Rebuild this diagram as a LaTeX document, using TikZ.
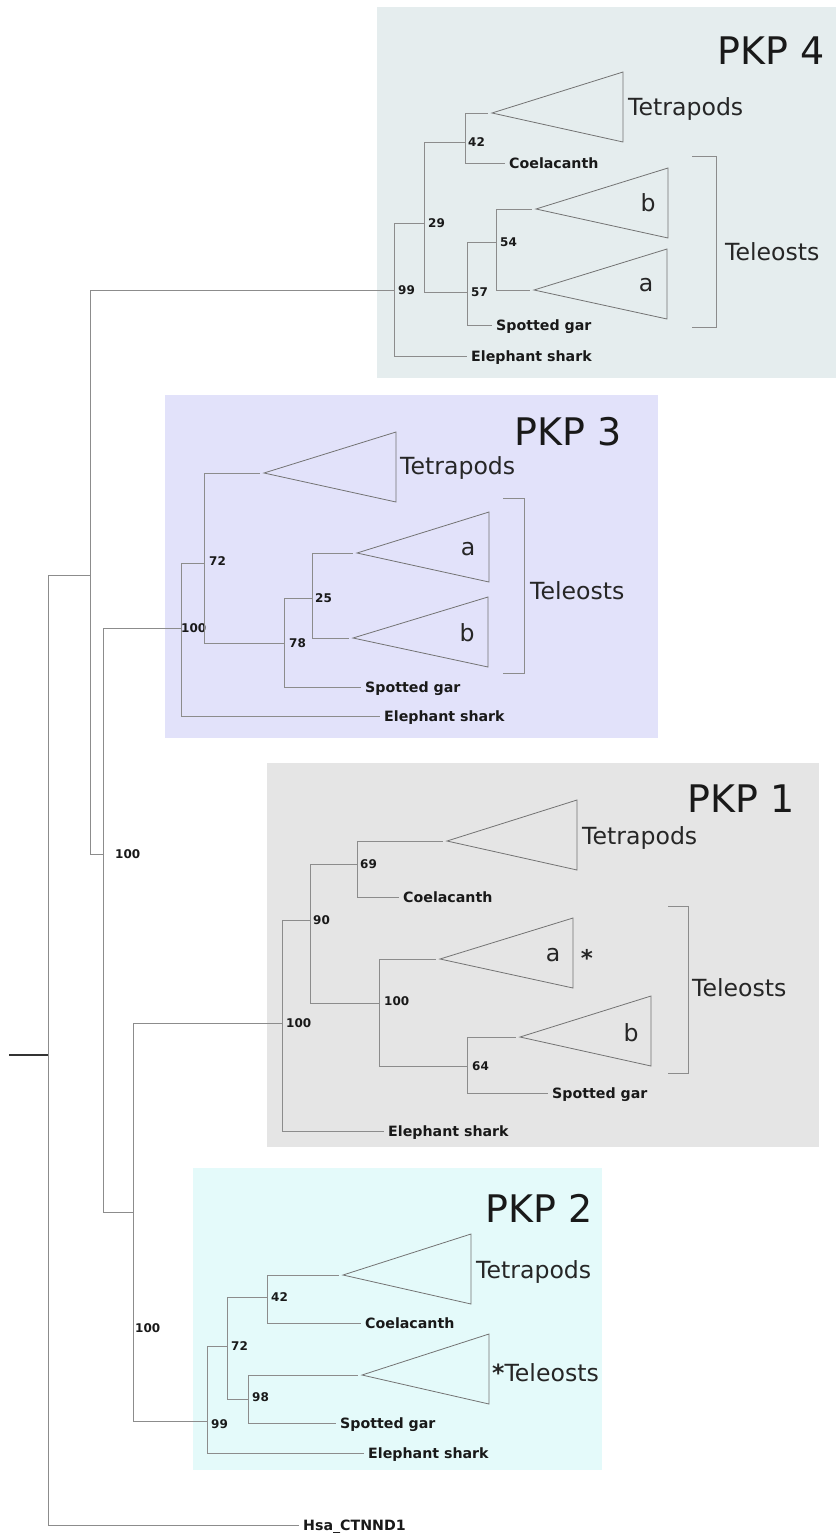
\documentclass[tikz,border=0pt]{standalone}
\usepackage{fontspec}
\setmainfont{DejaVu Sans}
\definecolor{pkpfour}{RGB}{229,237,238}
\definecolor{pkpthree}{RGB}{226,226,250}
\definecolor{pkpone}{RGB}{229,229,229}
\definecolor{pkptwo}{RGB}{228,250,250}
\begin{document}
\begin{tikzpicture}[x=1pt,y=-1pt,
    branch/.style={draw=black!45,line width=0.8pt},
    tobranch/.style={branch,shorten >=4pt},
    cladeshape/.style={draw=black!55,line width=0.8pt},
    leafname/.style={anchor=west,inner xsep=4pt,inner ysep=0pt,text height=10.3pt,text depth=0pt,
        font=\fontsize{14.2}{15}\selectfont\bfseries,text=black!90},
    bootval/.style={anchor=west,inner sep=1pt,text height=8.7pt,text depth=0pt,
        font=\fontsize{12}{13}\selectfont\bfseries,text=black!90},
    cladename/.style={anchor=west,inner sep=0pt,text height=17.2pt,text depth=0pt,
        font=\fontsize{23.6}{25}\selectfont,text=black!85},
    subname/.style={inner sep=0pt,font=\fontsize{23.6}{25}\selectfont,text=black!85},
    pkpname/.style={anchor=base east,inner sep=0pt,font=\fontsize{38}{40}\selectfont,text=black!90}]
\newcommand\cladetri[4]{
    \coordinate (#1) at (#2,#3);
    \draw[cladeshape] (#2,#3) -- (#4,#3-41) -- (#4,#3+29) -- cycle;
}
\newcommand\teleobracket[4]{
    \draw[branch] (#1-#4,#2) -- (#1,#2) -- (#1,#3) -- (#1-#4,#3);
}
\useasboundingbox (0,0) rectangle (836,1533);

% panels
\fill[pkpfour] (377,7) rectangle (836,378);
\fill[pkpthree] (165,395) rectangle (658,738);
\fill[pkpone] (267,763) rectangle (819,1147);
\fill[pkptwo] (193,1168) rectangle (602,1470);

% backbone
\coordinate (stub) at (9,1055);
\coordinate (root) at (48,1055);
\coordinate (bbA) at (90,575);
\coordinate (bbB) at (103,854);
\coordinate (bbC) at (133,1212);
\node[leafname] (hsa) at (299,1525) {Hsa\_CTNND1};
\node[bootval] (bbBval) at ([xshift=11pt]bbB) {100};
\node[bootval] (bbCval) at (134,1328) {100};

% PKP 4
\coordinate (p4n99) at (394,290);
\coordinate (p4n29) at (424,223);
\coordinate (p4n42) at (465,142);
\coordinate (p4n57) at (467,292);
\coordinate (p4n54) at (496,242);
\cladetri{p4tet}{492}{113}{623}
\cladetri{p4b}{536}{209}{668}
\cladetri{p4a}{534}{290}{667}
\node[leafname] (p4coel) at (505,163) {Coelacanth};
\node[leafname] (p4gar) at (492,325) {Spotted gar};
\node[leafname] (p4shark) at (467,356) {Elephant shark};
\node[bootval] (p4v99) at ([xshift=3pt]p4n99) {99};
\node[bootval] (p4v29) at ([xshift=3pt]p4n29) {29};
\node[bootval] (p4v42) at ([xshift=2pt]p4n42) {42};
\node[bootval] (p4v57) at ([xshift=3pt]p4n57) {57};
\node[bootval] (p4v54) at ([xshift=3pt]p4n54) {54};
\node[cladename] (p4tetname) at (628,107) {Tetrapods};
\node[subname] (p4bname) at (648,203) {b};
\node[subname] (p4aname) at (646,285) {a};
\teleobracket{716}{156}{327}{24}
\node[cladename] (p4telname) at (725,252) {Teleosts};
\node[pkpname] (p4name) at (825,65) {PKP 4};

% PKP 3
\coordinate (p3n100) at (181,628);
\coordinate (p3n72) at (204,563);
\coordinate (p3n78) at (284,643);
\coordinate (p3n25) at (312,598);
\cladetri{p3tet}{264}{473}{396}
\cladetri{p3a}{357}{553}{489}
\cladetri{p3b}{353}{638}{488}
\node[leafname] (p3gar) at (361,687) {Spotted gar};
\node[leafname] (p3shark) at (380,716) {Elephant shark};
\node[bootval] (p3v100) at ([xshift=-1pt]p3n100) {100};
\node[bootval] (p3v72) at ([xshift=4pt,yshift=2pt]p3n72) {72};
\node[bootval] (p3v78) at ([xshift=4pt]p3n78) {78};
\node[bootval] (p3v25) at ([xshift=2pt]p3n25) {25};
\node[cladename] (p3tetname) at (400,466) {Tetrapods};
\node[subname] (p3aname) at (468,549) {a};
\node[subname] (p3bname) at (467,633) {b};
\teleobracket{524}{498}{673}{21}
\node[cladename] (p3telname) at (530,591) {Teleosts};
\node[pkpname] (p3name) at (622,445) {PKP 3};

% PKP 1
\coordinate (p1n100) at (282,1023);
\coordinate (p1n90) at (310,920);
\coordinate (p1n69) at (357,864);
\coordinate (p1n100i) at (379,1003);
\coordinate (p1n64) at (467,1066);
\cladetri{p1tet}{447}{841}{577}
\cladetri{p1a}{440}{959}{573}
\cladetri{p1b}{520}{1037}{651}
\node[leafname] (p1coel) at (399,897) {Coelacanth};
\node[leafname] (p1gar) at (548,1093) {Spotted gar};
\node[leafname] (p1shark) at (384,1131) {Elephant shark};
\node[bootval] (p1v100) at ([xshift=3pt]p1n100) {100};
\node[bootval] (p1v90) at ([xshift=2pt]p1n90) {90};
\node[bootval] (p1v69) at ([xshift=2pt]p1n69) {69};
\node[bootval] (p1v100i) at ([xshift=4pt,yshift=2pt]p1n100i) {100};
\node[bootval] (p1v64) at ([xshift=4pt]p1n64) {64};
\node[cladename] (p1tetname) at (582,836) {Tetrapods};
\node[subname] (p1aname) at (553,955) {a};
\node[subname,anchor=base,font=\fontsize{23}{24}\selectfont\bfseries] (p1star) at (587,966) {*};
\node[subname] (p1bname) at (631,1033) {b};
\teleobracket{688}{906}{1073}{20}
\node[cladename] (p1telname) at (692,988) {Teleosts};
\node[pkpname] (p1name) at (795,812) {PKP 1};

% PKP 2
\coordinate (p2n99) at (207,1421);
\coordinate (p2n72) at (227,1346);
\coordinate (p2n42) at (267,1297);
\coordinate (p2n98) at (248,1399);
\cladetri{p2tet}{343}{1275}{471}
\cladetri{p2tel}{362}{1375}{489}
\node[leafname] (p2coel) at (361,1323) {Coelacanth};
\node[leafname] (p2gar) at (336,1423) {Spotted gar};
\node[leafname] (p2shark) at (364,1453) {Elephant shark};
\node[bootval] (p2v99) at ([xshift=3pt,yshift=-3pt]p2n99) {99};
\node[bootval] (p2v72) at ([xshift=3pt]p2n72) {72};
\node[bootval] (p2v42) at ([xshift=3pt]p2n42) {42};
\node[bootval] (p2v98) at ([xshift=3pt,yshift=2pt]p2n98) {98};
\node[cladename] (p2tetname) at (476,1270) {Tetrapods};
\node[cladename] (p2telname) at (492,1373) {{\bfseries*}Teleosts};
\node[pkpname] (p2name) at (593,1222) {PKP 2};

% connectors
\draw[black!80,line width=1.2pt] (stub) -- (root);
\draw[branch] (root) |- (bbA);
\draw[branch] (root) |- (hsa.west);
\draw[branch] (bbA) |- (p4n99);
\draw[branch] (bbA) |- (bbB);
\draw[branch] (bbB) |- (p3n100);
\draw[branch] (bbB) |- (bbC);
\draw[branch] (bbC) |- (p1n100);
\draw[branch] (bbC) |- (p2n99);

\draw[branch] (p4n99) |- (p4n29);
\draw[branch] (p4n99) |- (p4shark.west);
\draw[branch] (p4n29) |- (p4n42);
\draw[branch] (p4n29) |- (p4n57);
\draw[tobranch] (p4n42) |- (p4tet);
\draw[branch] (p4n42) |- (p4coel.west);
\draw[branch] (p4n57) |- (p4n54);
\draw[branch] (p4n57) |- (p4gar.west);
\draw[tobranch] (p4n54) |- (p4b);
\draw[tobranch] (p4n54) |- (p4a);

\draw[branch] (p3n100) |- (p3n72);
\draw[branch] (p3n100) |- (p3shark.west);
\draw[tobranch] (p3n72) |- (p3tet);
\draw[branch] (p3n72) |- (p3n78);
\draw[branch] (p3n78) |- (p3n25);
\draw[branch] (p3n78) |- (p3gar.west);
\draw[tobranch] (p3n25) |- (p3a);
\draw[tobranch] (p3n25) |- (p3b);

\draw[branch] (p1n100) |- (p1n90);
\draw[branch] (p1n100) |- (p1shark.west);
\draw[branch] (p1n90) |- (p1n69);
\draw[branch] (p1n90) |- (p1n100i);
\draw[tobranch] (p1n69) |- (p1tet);
\draw[branch] (p1n69) |- (p1coel.west);
\draw[tobranch] (p1n100i) |- (p1a);
\draw[branch] (p1n100i) |- (p1n64);
\draw[tobranch] (p1n64) |- (p1b);
\draw[branch] (p1n64) |- (p1gar.west);

\draw[branch] (p2n99) |- (p2n72);
\draw[branch] (p2n99) |- (p2shark.west);
\draw[branch] (p2n72) |- (p2n42);
\draw[branch] (p2n72) |- (p2n98);
\draw[tobranch] (p2n42) |- (p2tet);
\draw[branch] (p2n42) |- (p2coel.west);
\draw[tobranch] (p2n98) |- (p2tel);
\draw[branch] (p2n98) |- (p2gar.west);
\end{tikzpicture}
\end{document}
